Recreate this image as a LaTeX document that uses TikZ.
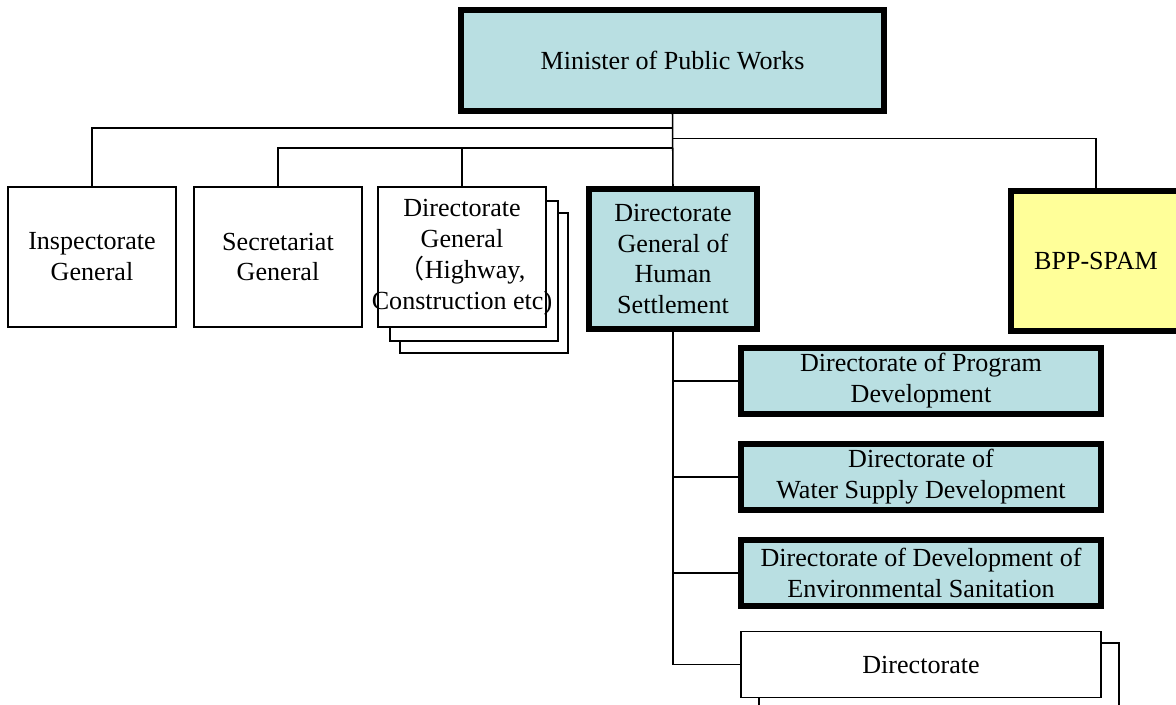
\documentclass[tikz,border=0pt]{standalone}
\usepackage{fontspec}
\setmainfont{Liberation Serif}
\newfontfamily\cjkparen{Noto Sans CJK SC}
\usepackage{tikz}

\definecolor{boxblue}{RGB}{185,223,226}
\definecolor{boxyellow}{RGB}{255,255,153}

\begin{document}
\begin{tikzpicture}[x=0.46pt, y=-0.46pt, line width=0.7pt,
	every node/.style={font=\fontsize{12pt}{14.2pt}\selectfont, align=center, inner sep=0pt},
	unit/.style={rectangle, draw, fill=white, minimum width=77.3pt, minimum height=64.4pt},
	sub/.style={rectangle, draw, fill=white, minimum width=165.6pt, minimum height=30.4pt},
	key/.style={line width=2.5pt, fill=boxblue}]
	\useasboundingbox (0,0) rectangle (1176,705);
	\clip (0,0) rectangle (1176,705);

	\node[rectangle, draw, key, minimum width=194.6pt, minimum height=46.5pt] (min) at (672.5,60.5) {Minister of Public Works};

	\node[unit] (insp) at (92,257) {Inspectorate\\General};
	\node[unit] (sec) at (278,257) {Secretariat\\General};
	\node[unit] (dgx3) at (484,283) {};
	\node[unit] (dgx2) at (474,271) {};
	\node[unit] (dgx) at (462,257) {Directorate\\General\\\makebox[0pt]{{\cjkparen （}Highway,}\\\makebox[0pt]{Construction etc)}};
	\node[unit, key] (dghs) at (673,259) {Directorate\\General of\\Human\\Settlement};
	\node[unit, line width=2.5pt, fill=boxyellow, minimum width=78.2pt] (bpp) at (1096,261) {BPP-SPAM};

	\node[sub, key] (dpd) at (921,381) {Directorate of Program\\Development};
	\node[sub, key] (dws) at (921,477) {Directorate of\\Water Supply Development};
	\node[sub, key] (des) at (921,573) {Directorate of Development of\\Environmental Sanitation};
	\node[sub] (dirb) at (939,676) {};
	\node[sub] (dir) at (921,664.5) {Directorate};

	\draw (min.south) -- (dghs.north);
	\draw (insp.north) -- ++(0,-58) -| (min.south);
	\draw (sec.north) -- ++(0,-38) -| (min.south);
	\draw (dgx.north) -- ++(0,-38);
	\draw (bpp.north) -- ++(0,-50) -| (min.south);

	\draw (dghs.south) |- (dpd.west);
	\draw (dghs.south) |- (dws.west);
	\draw (dghs.south) |- (des.west);
	\draw (dghs.south) |- (dir.west);
\end{tikzpicture}
\end{document}
